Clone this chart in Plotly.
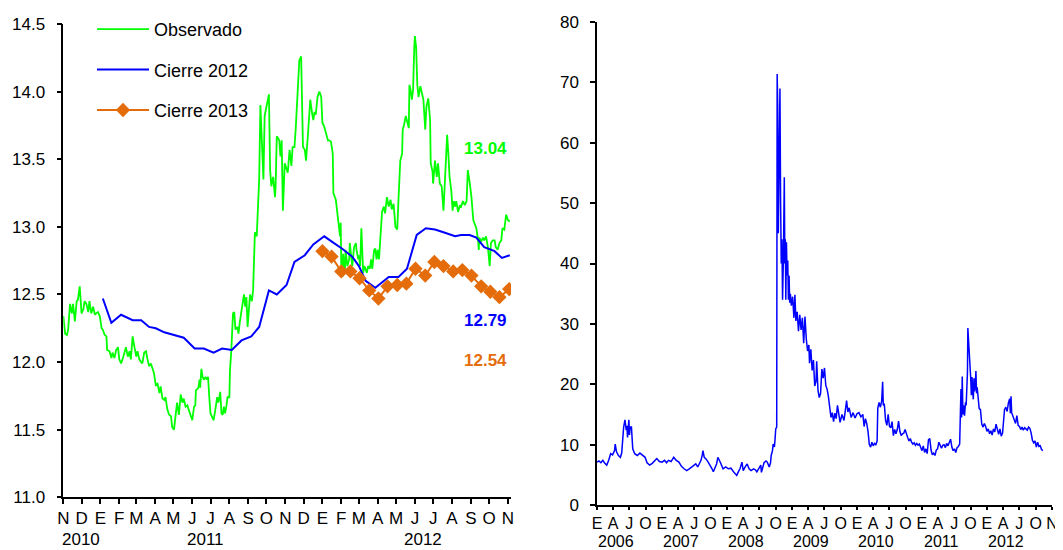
import numpy as np
import pandas as pd
import plotly.graph_objects as go

# ── data: peso / dollar, observed vs. survey forecasts (left panel) ──────────
OBS_START = pd.Timestamp("2010-11-01")
obs_days = [
    0, 3, 6, 8, 11, 14, 16, 19, 22, 24,
    27, 30, 33, 35, 38, 41, 43, 46, 49, 52,
    54, 57, 60, 63, 65, 68, 71, 72, 76, 79,
    81, 84, 87, 90, 92, 95, 98, 101, 103, 106,
    109, 111, 114, 117, 120, 122, 125, 128, 130, 133,
    136, 138, 141, 144, 147, 149, 152, 155, 158, 160,
    163, 166, 168, 171, 174, 177, 179, 182, 185, 187,
    190, 193, 196, 198, 201, 204, 206, 209, 212, 215,
    217, 218, 222, 224, 225, 227, 229, 231, 234, 236,
    238, 240, 242, 244, 247, 249, 251, 253, 255, 258,
    260, 262, 264, 266, 268, 270, 273, 274, 276, 278,
    279, 281, 283, 286, 288, 290, 292, 294, 297, 299,
    301, 303, 305, 307, 310, 312, 315, 318, 322, 324,
    327, 329, 331, 334, 338, 340, 342, 345, 348, 349,
    351, 355, 357, 359, 361, 364, 367, 369, 372, 375,
    377, 380, 382, 384, 386, 388, 391, 392, 394, 397,
    399, 402, 406, 409, 411, 413, 415, 418, 421, 424,
    426, 429, 432, 435, 437, 440, 443, 444, 448, 451,
    454, 455, 456, 457, 459, 460, 463, 464, 467, 470,
    471, 474, 475, 478, 481, 482, 485, 486, 488, 490,
    492, 493, 495, 497, 499, 501, 504, 506, 508, 511,
    513, 515, 517, 519, 521, 524, 527, 529, 532, 535,
    538, 540, 543, 546, 549, 550, 551, 554, 557, 558,
    560, 563, 565, 568, 569, 571, 573, 575, 577, 578,
    580, 582, 584, 587, 589, 592, 595, 596, 597, 600,
    603, 604, 607, 608, 611, 614, 616, 619, 622, 625,
    627, 629, 631, 633, 635, 638, 640, 642, 644, 646,
    649, 652, 654, 657, 660, 663, 665, 668, 671, 674,
    676, 679, 682, 683, 684, 687, 690, 692, 695, 698,
    701, 703, 706, 709, 711, 714, 717, 720, 722, 725,
    728, 731, 734,
]
obs_vals = [
    12.34, 12.21, 12.20, 12.24, 12.43, 12.36, 12.43, 12.30, 12.45, 12.46,
    12.56, 12.36, 12.39, 12.45, 12.43, 12.37, 12.45, 12.36, 12.41, 12.35,
    12.36, 12.37, 12.34, 12.25, 12.24, 12.20, 12.19, 12.09, 12.08, 12.03,
    12.07, 12.03, 12.09, 12.11, 12.02, 11.99, 12.03, 12.09, 12.11, 12.04,
    12.08, 12.02, 12.19, 12.11, 12.04, 12.08, 12.02, 12.00, 11.99, 12.07,
    12.08, 12.03, 11.97, 11.99, 11.94, 11.92, 11.83, 11.84, 11.77, 11.82,
    11.73, 11.72, 11.74, 11.65, 11.61, 11.60, 11.52, 11.50, 11.62, 11.70,
    11.61, 11.76, 11.70, 11.73, 11.67, 11.68, 11.65, 11.60, 11.57, 11.67,
    11.68, 11.79, 11.81, 11.87, 11.81, 11.95, 11.89, 11.87, 11.89, 11.87,
    11.89, 11.74, 11.62, 11.60, 11.57, 11.62, 11.70, 11.74, 11.70, 11.78,
    11.62, 11.61, 11.67, 11.62, 11.67, 11.74, 11.74, 11.94, 12.07, 12.24,
    12.36, 12.37, 12.24, 12.26, 12.21, 12.29, 12.36, 12.43, 12.50, 12.41,
    12.48, 12.26, 12.43, 12.50, 12.45, 12.53, 12.96, 12.93, 13.35, 13.90,
    13.57, 13.35, 13.82, 13.89, 13.98, 13.42, 13.30, 13.37, 13.22, 13.30,
    13.67, 13.64, 13.52, 13.64, 13.12, 13.47, 13.42, 13.40, 13.57, 13.45,
    13.59, 13.59, 13.72, 13.89, 14.14, 14.23, 14.26, 14.04, 13.59, 13.57,
    13.49, 13.67, 13.94, 13.84, 13.79, 13.85, 13.83, 13.96, 14.00, 13.96,
    13.77, 13.74, 13.69, 13.64, 13.64, 13.63, 13.54, 13.25, 13.20, 13.08,
    13.01, 12.93, 13.03, 12.71, 12.63, 12.80, 12.66, 12.83, 12.71, 12.76,
    12.88, 12.73, 12.71, 12.85, 12.88, 12.83, 12.76, 12.79, 12.71, 12.99,
    12.80, 12.66, 12.71, 12.69, 12.66, 12.71, 12.69, 12.76, 12.69, 12.83,
    12.84, 12.76, 12.83, 12.76, 12.93, 13.11, 13.15, 13.10, 13.22, 13.15,
    13.20, 13.13, 13.17, 13.00, 12.98, 13.05, 13.20, 13.49, 13.54, 13.72,
    13.75, 13.82, 13.79, 13.73, 14.05, 14.01, 13.94, 14.01, 14.33, 14.41,
    14.33, 14.05, 13.96, 14.04, 14.00, 13.94, 13.72, 13.89, 13.89, 13.95,
    13.79, 13.47, 13.41, 13.32, 13.49, 13.37, 13.47, 13.32, 13.30, 13.12,
    13.30, 13.47, 13.68, 13.54, 13.37, 13.26, 13.12, 13.19, 13.15, 13.19,
    13.11, 13.16, 13.15, 13.19, 13.16, 13.19, 13.42, 13.33, 13.22, 13.05,
    13.03, 12.99, 12.90, 12.83, 12.92, 12.89, 12.92, 12.90, 12.93, 12.85,
    12.71, 12.88, 12.90, 12.90, 12.85, 12.83, 12.88, 12.90, 12.99, 12.98,
    13.09, 13.05, 13.04,
]

c12_days = [65, 79, 95, 114, 128, 141, 152, 166, 198, 216,
            231, 247, 261, 277, 293, 309, 322, 338, 351, 367,
            380, 397, 411, 429, 445, 458, 475, 486, 497, 513,
            535, 551, 565, 581, 596, 611, 625, 644, 654, 668,
            679, 692, 709, 721, 734]
c12_vals = [12.47, 12.29, 12.35, 12.31, 12.31, 12.26, 12.25, 12.22, 12.18, 12.10,
            12.10, 12.07, 12.10, 12.09, 12.16, 12.19, 12.26, 12.53, 12.50, 12.57,
            12.74, 12.79, 12.87, 12.93, 12.88, 12.84, 12.78, 12.71, 12.60, 12.55,
            12.63, 12.63, 12.69, 12.94, 12.99, 12.98, 12.96, 12.93, 12.94, 12.94,
            12.92, 12.85, 12.82, 12.77, 12.79]

c13_days = [426, 441, 457, 472, 487, 503, 518, 533, 549, 564,
            579, 595, 610, 625, 641, 656, 671, 687, 702, 717, 733]
c13_vals = [12.82, 12.78, 12.67, 12.67, 12.62, 12.53, 12.47, 12.56, 12.57, 12.58,
            12.69, 12.64, 12.74, 12.71, 12.67, 12.68, 12.64, 12.56, 12.52, 12.48, 12.54]

month_labels = ["N", "D", "E", "F", "M", "A", "M", "J", "J", "A", "S", "O",
                "N", "D", "E", "F", "M", "A", "M", "J", "J", "A", "S", "O", "N"]
left_years = ["2010", "2011", "2012"]
left_year_pos = ["2010-11-30", "2011-06-22", "2012-06-14"]

# ── data: implied volatility (right panel), x in years since 2006 ────────────
VOL_START = pd.Timestamp("2006-01-01")
vol_t = [
    0.00, 0.03, 0.06, 0.09, 0.12, 0.15, 0.18, 0.21, 0.24, 0.27,
    0.28, 0.30, 0.33, 0.36, 0.38, 0.39, 0.41, 0.43, 0.45, 0.46,
    0.47, 0.48, 0.49, 0.50, 0.51, 0.53, 0.55, 0.58, 0.62, 0.66,
    0.70, 0.74, 0.77, 0.81, 0.85, 0.88, 0.92, 0.96, 1.00, 1.04,
    1.07, 1.10, 1.14, 1.18, 1.22, 1.26, 1.30, 1.34, 1.38, 1.42,
    1.46, 1.50, 1.52, 1.55, 1.58, 1.60, 1.62, 1.63, 1.65, 1.68,
    1.71, 1.74, 1.77, 1.79, 1.82, 1.84, 1.86, 1.88, 1.90, 1.94,
    1.98, 2.02, 2.06, 2.10, 2.13, 2.15, 2.18, 2.20, 2.23, 2.25,
    2.28, 2.31, 2.34, 2.37, 2.41, 2.44, 2.46, 2.49, 2.52, 2.53,
    2.55, 2.57, 2.60, 2.62, 2.65, 2.67, 2.68, 2.70, 2.71, 2.73,
    2.74, 2.75, 2.765, 2.772, 2.781, 2.790, 2.800, 2.815, 2.825, 2.835,
    2.845, 2.855, 2.868, 2.882, 2.890, 2.897, 2.905, 2.915, 2.924, 2.935,
    2.945, 2.955, 2.965, 2.975, 2.99, 3.01, 3.03, 3.045, 3.06, 3.08,
    3.10, 3.12, 3.14, 3.16, 3.18, 3.20, 3.22, 3.24, 3.26, 3.27,
    3.29, 3.31, 3.33, 3.35, 3.37, 3.38, 3.40, 3.42, 3.44, 3.46,
    3.48, 3.50, 3.52, 3.54, 3.56, 3.58, 3.60, 3.62, 3.64, 3.66,
    3.68, 3.70, 3.72, 3.74, 3.77, 3.80, 3.82, 3.84, 3.86, 3.88,
    3.91, 3.94, 3.97, 4.00, 4.03, 4.06, 4.09, 4.11, 4.13, 4.15,
    4.17, 4.19, 4.21, 4.23, 4.25, 4.27, 4.29, 4.31, 4.32, 4.34,
    4.36, 4.38, 4.395, 4.405, 4.42, 4.44, 4.46, 4.48, 4.50, 4.52,
    4.54, 4.56, 4.58, 4.60, 4.62, 4.64, 4.66, 4.68, 4.70, 4.72,
    4.74, 4.76, 4.78, 4.80, 4.82, 4.84, 4.86, 4.88, 4.90, 4.92,
    4.94, 4.96, 4.98, 5.00, 5.02, 5.04, 5.06, 5.08, 5.10, 5.12,
    5.14, 5.16, 5.18, 5.20, 5.22, 5.24, 5.26, 5.28, 5.30, 5.32,
    5.34, 5.36, 5.38, 5.40, 5.42, 5.44, 5.46, 5.48, 5.50, 5.52,
    5.54, 5.56, 5.58, 5.59, 5.60, 5.61, 5.62, 5.63, 5.64, 5.655,
    5.67, 5.68, 5.70, 5.706, 5.72, 5.735, 5.75, 5.76, 5.77, 5.78,
    5.79, 5.80, 5.81, 5.82, 5.83, 5.84, 5.85, 5.86, 5.88, 5.90,
    5.92, 5.94, 5.96, 5.98, 6.00, 6.02, 6.04, 6.06, 6.08, 6.10,
    6.12, 6.14, 6.16, 6.18, 6.20, 6.22, 6.24, 6.27, 6.29, 6.31,
    6.33, 6.35, 6.36, 6.37, 6.38, 6.40, 6.42, 6.44, 6.46, 6.48,
    6.50, 6.52, 6.54, 6.56, 6.58, 6.60, 6.62, 6.64, 6.66, 6.68,
    6.70, 6.72, 6.74, 6.76, 6.78, 6.80, 6.82, 6.84, 6.86,
]
vol_v = [
    7.1, 7.3, 7.0, 7.4, 6.9, 6.6, 7.4, 8.5, 8.3, 9.0,
    10.1, 8.8, 8.2, 7.9, 8.6, 10.7, 12.9, 14.1, 12.4, 13.1,
    11.2, 12.5, 14.1, 11.6, 12.9, 12.9, 9.3, 8.5, 8.2, 8.6,
    8.2, 7.9, 7.0, 6.6, 6.9, 7.3, 7.7, 7.2, 7.1, 7.4,
    7.0, 7.4, 7.2, 7.9, 7.4, 7.1, 6.4, 6.0, 5.7, 6.0,
    6.3, 6.6, 6.8, 6.3, 6.9, 7.4, 8.3, 9.0, 7.9, 7.6,
    7.1, 6.6, 6.0, 5.5, 6.2, 6.8, 7.9, 7.3, 7.0, 6.0,
    6.3, 6.0, 6.1, 5.5, 5.2, 4.9, 5.6, 6.0, 7.1, 5.7,
    6.3, 6.8, 6.0, 5.7, 6.0, 5.8, 5.5, 6.1, 6.6, 5.4,
    6.2, 7.0, 7.3, 7.1, 6.3, 7.0, 8.2, 9.0, 10.1, 9.6,
    11.0, 12.6, 12.9, 71.4, 66.0, 45.0, 60.0, 69.0, 50.0, 40.0,
    44.0, 34.0, 41.0, 54.3, 40.0, 44.0, 34.0, 43.5, 38.0, 40.5,
    34.0, 38.0, 33.5, 35.0, 33.0, 34.5, 31.0, 34.8, 30.5, 32.0,
    28.8, 31.5, 29.0, 31.0, 26.8, 31.2, 27.5, 25.5, 26.5, 23.5,
    25.8, 22.3, 24.0, 19.7, 20.5, 23.8, 19.0, 17.8, 18.5, 22.5,
    21.0, 22.7, 19.8, 19.2, 18.0, 15.6, 14.5, 15.3, 13.8, 15.2,
    14.3, 16.5, 15.2, 13.7, 15.0, 14.0, 15.6, 17.3, 15.4, 16.1,
    14.5, 15.3, 14.4, 15.1, 15.3, 14.6, 15.0, 13.0, 14.3, 13.5,
    12.2, 10.0, 9.6, 10.4, 9.8, 10.2, 10.0, 10.6, 16.0, 17.0,
    16.2, 17.2, 20.4, 16.5, 16.8, 14.0, 13.2, 15.0, 13.0, 12.8,
    13.8, 11.5, 12.5, 11.8, 12.5, 13.9, 12.2, 11.5, 11.8, 11.9,
    12.5, 11.6, 11.2, 10.6, 11.0, 10.4, 10.1, 10.3, 9.9, 10.2,
    9.9, 10.1, 9.4, 9.0, 9.8, 8.7, 9.3, 8.5, 10.8, 11.0,
    9.1, 8.3, 8.6, 8.2, 9.1, 9.3, 10.4, 9.8, 9.4, 9.9,
    10.0, 9.5, 10.2, 9.8, 10.3, 10.9, 9.6, 9.0, 9.3, 8.7,
    9.5, 9.7, 10.1, 17.5, 19.2, 14.5, 21.3, 15.0, 16.5, 14.8,
    17.0, 16.5, 22.0, 29.3, 27.0, 24.0, 21.0, 18.2, 21.2, 19.0,
    17.5, 21.0, 18.8, 19.8, 22.2, 18.5, 19.5, 18.3, 16.0, 15.8,
    13.4, 12.9, 13.5, 13.0, 12.2, 12.6, 11.8, 12.3, 11.6, 12.6,
    12.1, 13.4, 12.5, 11.7, 12.6, 11.4, 11.9, 15.8, 16.2, 15.5,
    16.9, 17.6, 15.2, 18.0, 15.3, 14.6, 14.0, 13.5, 14.8, 13.2,
    13.0, 12.5, 12.9, 12.4, 12.8, 12.6, 12.4, 12.9, 12.7, 11.9,
    10.7, 10.3, 10.6, 9.6, 10.4, 9.7, 9.8, 9.2, 9.0,
]

quarter_labels = ["E", "A", "J", "O"] * 7 + ["N"]
right_years = ["2006", "2007", "2008", "2009", "2010", "2011", "2012"]

assert len(obs_days) == len(obs_vals)
assert len(vol_t) == len(vol_v)

# ── colours / fonts / page geometry ──────────────────────────────────────────
GREEN = "#00FF00"
BLUE = "#0000FF"
ORANGE = "#E46C0A"
FONT = "Liberation Sans, Arial, sans-serif"
OFF = 8                      # default <body> margin of the html page
W, H = 1063 - OFF, 550 - OFF


def fx(px):                  # page pixel -> paper x fraction
    return (px - OFF) / W


def fy(py):                  # page pixel -> paper y fraction
    return 1 - (py - OFF) / H


def _days(start, offsets):
    return start + pd.to_timedelta(offsets, unit="D")


obs_x = _days(OBS_START, obs_days)
c12_x = _days(OBS_START, c12_days)
c13_x = _days(OBS_START, c13_days)
vol_x = _days(VOL_START, np.array(vol_t) * 365.25)

fig = go.Figure()
fig.add_trace(go.Scatter(x=obs_x, y=obs_vals, mode="lines", name="Observado",
                         line=dict(color=GREEN, width=1.8), legendgroup="a"))
fig.add_trace(go.Scatter(x=c12_x, y=c12_vals, mode="lines", name="Cierre 2012",
                         line=dict(color=BLUE, width=2), legendgroup="b"))
fig.add_trace(go.Scatter(x=c13_x, y=c13_vals, mode="lines+markers", name="Cierre 2013",
                         line=dict(color=ORANGE, width=2),
                         marker=dict(symbol="diamond", size=11, color=ORANGE),
                         legendgroup="c"))
fig.add_trace(go.Scatter(x=vol_x, y=vol_v, mode="lines", showlegend=False,
                         line=dict(color=BLUE, width=1.5), xaxis="x2", yaxis="y2"))

axis_common = dict(showline=True, linecolor="black", linewidth=1.5,
                   ticks="outside", ticklen=5, tickwidth=1.5, tickcolor="black",
                   showgrid=False, zeroline=False,
                   tickfont=dict(size=17, color="black"))

left_ticks = [d.strftime("%Y-%m-%d") for d in
              pd.date_range("2010-11-01", "2012-11-01", freq="MS")]
right_ticks = [d.strftime("%Y-%m-%d") for d in
               pd.date_range("2006-01-01", "2013-01-01", freq="QS")]

fig.update_layout(
    width=W, height=H, template="none",
    paper_bgcolor="white", plot_bgcolor="white",
    font=dict(family=FONT, size=17, color="black"),
    margin=dict(l=0, r=0, t=0, b=0),
    xaxis=dict(domain=[fx(63.3), fx(511)], anchor="y", type="date",
               range=["2010-11-01", "2012-11-06"],
               tickvals=left_ticks, ticktext=month_labels,
               ticklabelstandoff=0, **axis_common),
    yaxis=dict(domain=[fy(497.3), fy(24)], anchor="x",
               range=[11, 14.5], tickvals=[11, 11.5, 12, 12.5, 13, 13.5, 14, 14.5],
               tickformat=".1f", ticklabelstandoff=8, **axis_common),
    xaxis2=dict(domain=[fx(597), fx(1052)], anchor="y2", type="date",
                range=["2006-01-01", "2013-01-01"],
                tickvals=right_ticks, ticktext=quarter_labels,
                ticklabelstandoff=0,
                **{**axis_common, "ticklen": 3,
                   "tickfont": dict(size=16, color="black")}),
    yaxis2=dict(domain=[fy(505), fy(22)], anchor="x2",
                range=[0, 80], dtick=10, ticklabelstandoff=8, **axis_common),
    showlegend=True,
    legend=dict(x=84 / W, y=1 - 3 / H, xanchor="left", yanchor="top",
                font=dict(size=18, color="black"), itemwidth=52,
                tracegroupgap=14, bgcolor="rgba(0,0,0,0)"),
)

# year labels under the month letters
for yr, pos in zip(left_years, left_year_pos):
    fig.add_annotation(x=pos, y=fy(539), xref="x", yref="paper", yanchor="middle",
                       text=yr, showarrow=False, font=dict(size=17))
for yr in right_years:
    fig.add_annotation(x=f"{yr}-04-20", y=fy(541), xref="x2", yref="paper",
                       yanchor="middle", text=yr, showarrow=False, font=dict(size=16))

# latest values
for txt, yv, col in [("13.04", 13.58, GREEN), ("12.79", 12.31, BLUE), ("12.54", 12.01, ORANGE)]:
    fig.add_annotation(x="2012-09-25", y=yv, xref="x", yref="y", text=f"<b>{txt}</b>",
                       showarrow=False, font=dict(size=17, color=col))

fig.write_html("out.html")
